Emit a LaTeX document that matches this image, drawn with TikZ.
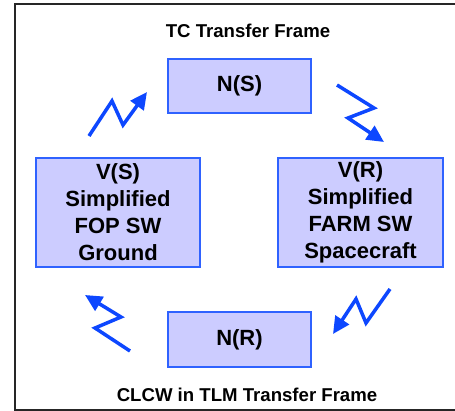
\documentclass[tikz,border=0pt]{standalone}
\usepackage{fontspec}
\setmainfont{Liberation Sans}
\usetikzlibrary{arrows.meta}
\definecolor{boxfill}{HTML}{CCCCFF}
\definecolor{boxline}{HTML}{2F62FF}
\definecolor{linkblue}{HTML}{0D47FF}
\tikzset{
  procbox/.style={draw=boxline, line width=1.2pt, fill=boxfill, inner sep=0pt,
    align=center, font=\fontsize{22}{27}\selectfont\bfseries},
  label text/.style={font=\fontsize{18.6}{22}\selectfont\bfseries},
  link/.style={draw=linkblue, line width=3.5pt, line join=miter,
    -{Triangle[length=17pt,width=16pt]}},
}
\begin{document}
\begin{tikzpicture}[x=1pt,y=-1pt]
\useasboundingbox (0,0) rectangle (455,410);
\begin{scope}
\clip (0,0) rectangle (455,410);
\draw[line width=2pt, black!85] (14.5,4.3) rectangle (480,409.5);
\end{scope}

% protocol entities
\node[procbox, minimum width=143pt, minimum height=54pt] (ns) at (239.5,86) {N(S)};
\node[procbox, minimum width=143pt, minimum height=55pt] (nr) at (239.5,339.5) {N(R)};
\node[procbox, minimum width=164pt, minimum height=109pt] (vs) at (118,212.5)
  {V(S)\\Simplified\\FOP SW\\Ground};
\node[procbox, minimum width=165pt, minimum height=109pt] (vr) at (360.5,212.5)
  {V(R)\\Simplified\\FARM SW\\Spacecraft};

% frame labels
\node[label text] (tc) at (248,31) {TC Transfer Frame};
\node[label text] (clcw) at (247,395) {CLCW in TLM Transfer Frame};

% zig-zag links
\coordinate (a1) at (89,136);
\coordinate (a1b) at (112,101);
\coordinate (a1c) at (123,125);
\coordinate (a1t) at (147,92);
\draw[link] (a1) -- (a1b) -- (a1c) -- (a1t);

\coordinate (a2) at (337,85);
\coordinate (a2b) at (374,108);
\coordinate (a2c) at (348,118);
\coordinate (a2t) at (384,142);
\draw[link] (a2) -- (a2b) -- (a2c) -- (a2t);

\coordinate (a3) at (390,289);
\coordinate (a3b) at (366,323);
\coordinate (a3c) at (356,299);
\coordinate (a3t) at (333,334);
\draw[link] (a3) -- (a3b) -- (a3c) -- (a3t);

\coordinate (a4) at (130,351);
\coordinate (a4b) at (95,328);
\coordinate (a4c) at (121,317);
\coordinate (a4t) at (85,295);
\draw[link] (a4) -- (a4b) -- (a4c) -- (a4t);
\end{tikzpicture}
\end{document}
